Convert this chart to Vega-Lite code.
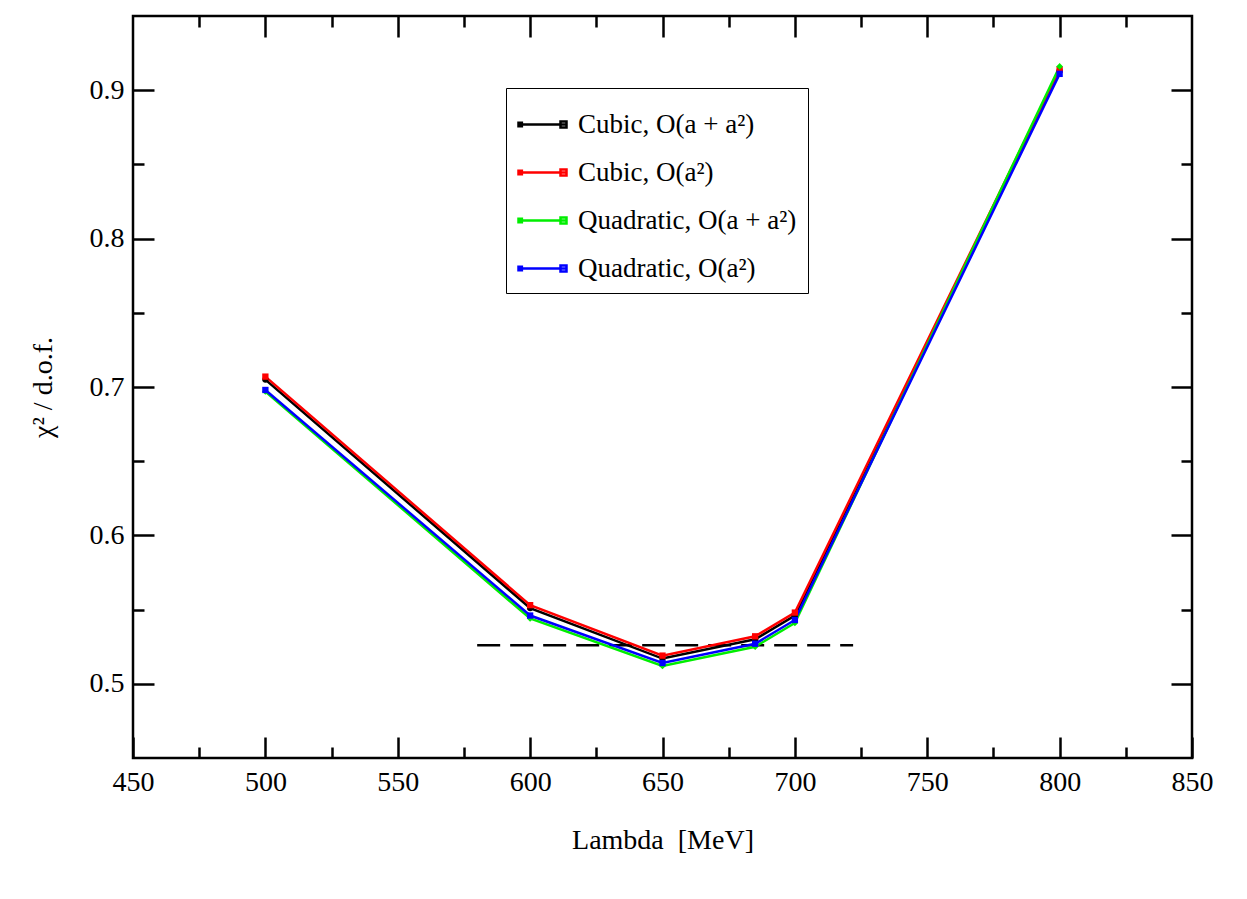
{
  "$schema": "https://vega.github.io/schema/vega-lite/v6.json",
  "width": 1059,
  "height": 742,
  "autosize": {"type": "none"},
  "padding": {"left": 133, "top": 16, "right": 55, "bottom": 141},
  "background": "white",
  "config": {
    "view": {"stroke": "black", "strokeWidth": 2.5},
    "font": "Liberation Serif",
    "axis": {
      "labelFont": "Liberation Serif",
      "titleFont": "Liberation Serif",
      "labelFontSize": 28,
      "titleFontSize": 28,
      "titleFontWeight": "normal",
      "labelColor": "black",
      "titleColor": "black",
      "tickColor": "black",
      "tickWidth": 2.5,
      "domain": false,
      "grid": false,
      "labelFlush": false,
      "labelOverlap": false,
      "labelBound": false
    }
  },
  "datasets": {
    "series": [
      {"fit": "Cubic, O(a + a²)", "lambda": 500, "chi2": 0.705},
      {"fit": "Cubic, O(a + a²)", "lambda": 600, "chi2": 0.551},
      {"fit": "Cubic, O(a + a²)", "lambda": 650, "chi2": 0.517},
      {"fit": "Cubic, O(a + a²)", "lambda": 685, "chi2": 0.530},
      {"fit": "Cubic, O(a + a²)", "lambda": 700, "chi2": 0.546},
      {"fit": "Cubic, O(a + a²)", "lambda": 800, "chi2": 0.913},
      {"fit": "Cubic, O(a²)", "lambda": 500, "chi2": 0.707},
      {"fit": "Cubic, O(a²)", "lambda": 600, "chi2": 0.553},
      {"fit": "Cubic, O(a²)", "lambda": 650, "chi2": 0.519},
      {"fit": "Cubic, O(a²)", "lambda": 685, "chi2": 0.532},
      {"fit": "Cubic, O(a²)", "lambda": 700, "chi2": 0.548},
      {"fit": "Cubic, O(a²)", "lambda": 800, "chi2": 0.914},
      {"fit": "Quadratic, O(a + a²)", "lambda": 500, "chi2": 0.697},
      {"fit": "Quadratic, O(a + a²)", "lambda": 600, "chi2": 0.544},
      {"fit": "Quadratic, O(a + a²)", "lambda": 650, "chi2": 0.512},
      {"fit": "Quadratic, O(a + a²)", "lambda": 685, "chi2": 0.525},
      {"fit": "Quadratic, O(a + a²)", "lambda": 700, "chi2": 0.541},
      {"fit": "Quadratic, O(a + a²)", "lambda": 800, "chi2": 0.916},
      {"fit": "Quadratic, O(a²)", "lambda": 500, "chi2": 0.698},
      {"fit": "Quadratic, O(a²)", "lambda": 600, "chi2": 0.546},
      {"fit": "Quadratic, O(a²)", "lambda": 650, "chi2": 0.514},
      {"fit": "Quadratic, O(a²)", "lambda": 685, "chi2": 0.527},
      {"fit": "Quadratic, O(a²)", "lambda": 700, "chi2": 0.543},
      {"fit": "Quadratic, O(a²)", "lambda": 800, "chi2": 0.911}
    ],
    "ref": [{"x": 580, "x2": 722, "y": 0.526}]
  },
  "layer": [
    {
      "data": {"name": "ref"},
      "mark": {"type": "rule", "color": "black", "strokeWidth": 2.5, "strokeDash": [23, 10]},
      "encoding": {
        "x": {"field": "x", "type": "quantitative", "scale": {"domain": [450, 850], "nice": false, "zero": false},
          "axis": {"orient": "top", "values": [500,550,600,650,700,750,800], "labels": false, "title": null, "tickSize": -21}},
        "x2": {"field": "x2"},
        "y": {"field": "y", "type": "quantitative", "scale": {"domain": [0.45, 0.95], "nice": false, "zero": false},
          "axis": {"orient": "right", "values": [0.5,0.6,0.7,0.8,0.9], "labels": false, "title": null, "tickSize": -21}}
      }
    },
    {
      "data": {"name": "series"},
      "mark": {"type": "line", "strokeWidth": 2.5},
      "encoding": {
        "x": {"field": "lambda", "type": "quantitative", "scale": {"domain": [450, 850], "nice": false, "zero": false},
          "axis": {"orient": "bottom", "values": [450,500,550,600,650,700,750,800,850], "tickSize": -21, "labelPadding": 31,
            "title": "Lambda\u00a0\u00a0[MeV]", "titlePadding": 30}},
        "y": {"field": "chi2", "type": "quantitative", "scale": {"domain": [0.45, 0.95], "nice": false, "zero": false},
          "axis": {"orient": "left", "values": [0.5,0.6,0.7,0.8,0.9], "format": ".1f", "tickSize": -21, "labelPadding": 30,
            "title": "χ² / d.o.f.", "titlePadding": 32}},
        "color": {"field": "fit", "type": "nominal",
          "scale": {"domain": ["Cubic, O(a + a²)", "Cubic, O(a²)", "Quadratic, O(a + a²)", "Quadratic, O(a²)"], "range": ["#000000", "#ff0000", "#00ee00", "#0000ff"]},
          "legend": {"orient": "none", "legendX": 373, "legendY": 72, "title": null,
            "strokeColor": "black", "fillColor": "white", "padding": 11,
            "symbolType": "M-1,0H1M-1,-0.07H-0.86V0.07H-1ZM0.75,-0.125H1V0.125H0.75Z",
            "symbolSize": 2304, "symbolStrokeWidth": 2.5,
            "labelFont": "Liberation Serif", "labelFontSize": 27, "labelColor": "black",
            "labelOffset": 10, "rowPadding": 9, "labelLimit": 0}}
      }
    },
    {
      "data": {"name": "series"},
      "transform": [{"filter": "datum.fit === 'Cubic, O(a + a²)'"}],
      "mark": {"type": "point", "shape": "circle", "filled": true, "size": 40, "color": "#000000", "opacity": 1},
      "encoding": {
        "x": {"field": "lambda", "type": "quantitative",
          "axis": {"orient": "bottom", "values": [475,525,575,625,675,725,775,825], "labels": false, "title": null, "tickSize": -11}},
        "y": {"field": "chi2", "type": "quantitative",
          "axis": {"orient": "left", "values": [0.55,0.65,0.75,0.85], "labels": false, "title": null, "tickSize": -11}}
      }
    },
    {
      "data": {"name": "series"},
      "transform": [{"filter": "datum.fit === 'Cubic, O(a²)'"}],
      "mark": {"type": "point", "shape": "square", "filled": true, "size": 40, "color": "#ff0000", "opacity": 1},
      "encoding": {
        "x": {"field": "lambda", "type": "quantitative",
          "axis": {"orient": "top", "values": [475,525,575,625,675,725,775,825], "labels": false, "title": null, "tickSize": -11}},
        "y": {"field": "chi2", "type": "quantitative",
          "axis": {"orient": "right", "values": [0.55,0.65,0.75,0.85], "labels": false, "title": null, "tickSize": -11}}
      }
    },
    {
      "data": {"name": "series"},
      "transform": [{"filter": "datum.fit === 'Quadratic, O(a + a²)'"}],
      "mark": {"type": "point", "shape": "diamond", "filled": true, "size": 45, "color": "#00ee00", "opacity": 1},
      "encoding": {
        "x": {"field": "lambda", "type": "quantitative", "axis": null},
        "y": {"field": "chi2", "type": "quantitative", "axis": null}
      }
    },
    {
      "data": {"name": "series"},
      "transform": [{"filter": "datum.fit === 'Quadratic, O(a²)'"}],
      "mark": {"type": "point", "shape": "square", "filled": true, "size": 40, "color": "#0000ff", "opacity": 1},
      "encoding": {
        "x": {"field": "lambda", "type": "quantitative", "axis": null},
        "y": {"field": "chi2", "type": "quantitative", "axis": null}
      }
    }
  ],
  "resolve": {"axis": {"x": "independent", "y": "independent"}}
}
